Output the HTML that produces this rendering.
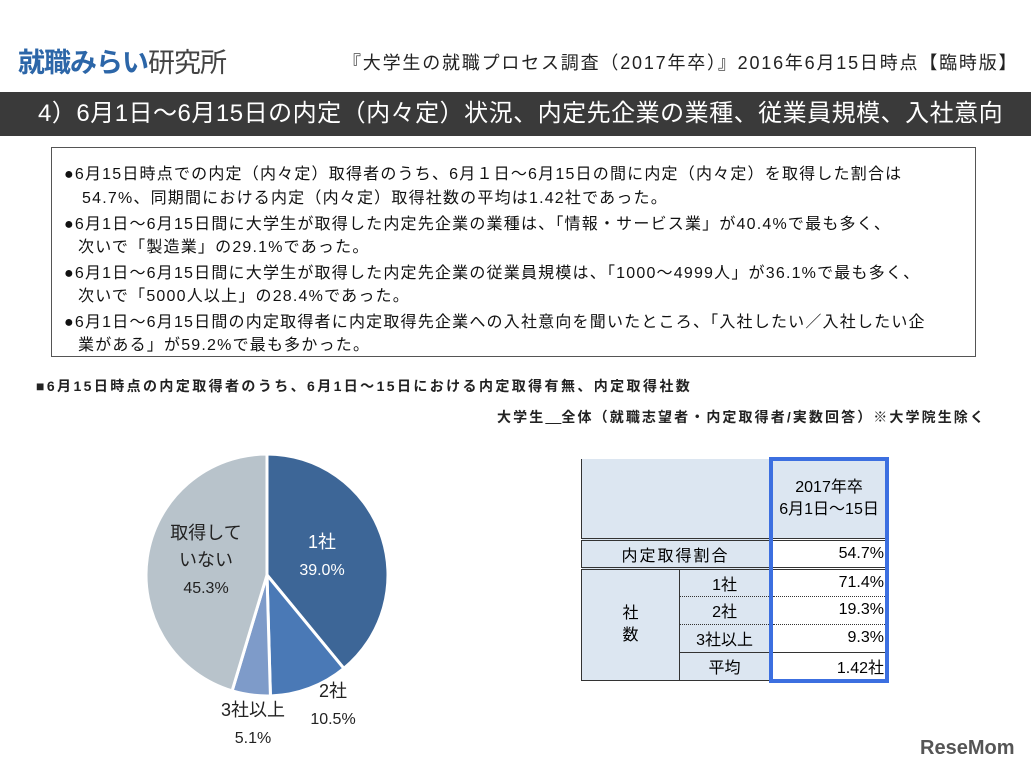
<!DOCTYPE html>
<html><head><meta charset="utf-8">
<style>
body{margin:0;width:1031px;height:771px;background:#fff;position:relative;overflow:hidden;font-family:"Liberation Sans","Noto Sans CJK JP",sans-serif;}
.abs{position:absolute;white-space:nowrap;}
#box{position:absolute;left:51px;top:147px;width:925px;height:210px;border:1px solid #555;box-sizing:border-box;font-size:16px;letter-spacing:1.2px;color:#111;}
#box div{position:absolute;left:12px;white-space:nowrap;}
table{border-collapse:collapse;font-size:16px;}
</style></head><body>
<div class="abs" style="left:18px;top:41px;font-size:27px;font-weight:bold;color:#2c66a8;letter-spacing:-1px;">就職みらい<span style="color:#444;font-weight:normal">研究所</span></div>
<div class="abs" style="left:343px;top:49px;font-size:18px;letter-spacing:1.8px;color:#222;">『大学生の就職プロセス調査（2017年卒）』2016年6月15日時点【臨時版】</div>
<div class="abs" style="left:0;top:92px;width:1031px;height:44px;background:#3a3a3a;color:#fff;font-size:24px;letter-spacing:0.5px;line-height:44px;padding-left:38px;box-sizing:border-box;">4）6月1日～6月15日の内定（内々定）状況、内定先企業の業種、従業員規模、入社意向</div>
<div id="box">
<div style="top:12px">●6月15日時点での内定（内々定）取得者のうち、6月１日～6月15日の間に内定（内々定）を取得した割合は</div>
<div style="top:36px;left:30px">54.7%、同期間における内定（内々定）取得社数の平均は1.42社であった。</div>
<div style="top:62px">●6月1日～6月15日間に大学生が取得した内定先企業の業種は、「情報・サービス業」が40.4%で最も多く、</div>
<div style="top:85px;left:26px">次いで「製造業」の29.1%であった。</div>
<div style="top:111px">●6月1日～6月15日間に大学生が取得した内定先企業の従業員規模は、「1000～4999人」が36.1%で最も多く、</div>
<div style="top:134px;left:26px">次いで「5000人以上」の28.4%であった。</div>
<div style="top:160px">●6月1日～6月15日間の内定取得者に内定取得先企業への入社意向を聞いたところ、「入社したい／入社したい企</div>
<div style="top:183px;left:26px">業がある」が59.2%で最も多かった。</div>
</div>
<div class="abs" style="left:36px;top:376px;font-size:14px;letter-spacing:2.4px;font-weight:bold;color:#222;">■6月15日時点の内定取得者のうち、6月1日～15日における内定取得有無、内定取得社数</div>
<div class="abs" style="left:497px;top:407px;font-size:14px;letter-spacing:2.1px;font-weight:bold;color:#222;">大学生<u>　</u>全体（就職志望者・内定取得者/実数回答）※大学院生除く</div>
<svg id="pie" width="1031" height="771" style="position:absolute;left:0;top:0"></svg>
<table style="position:absolute;left:581px;top:457px;width:308px;">
<tr style="height:80px"><td colspan="2" style="background:#dce6f1;width:177px;border-left:1px solid #333;border-bottom:3px double #333"></td><td style="background:#dce6f1;text-align:center;border:4px solid #3c6fe0;border-bottom:3px double #333;line-height:22px">2017年卒<br>6月1日～15日</td></tr>
<tr style="height:25px"><td colspan="2" style="background:#dce6f1;text-align:center;border-left:1px solid #333;border-bottom:3px double #333;letter-spacing:2px">内定取得割合</td><td style="text-align:right;border-left:4px solid #3c6fe0;border-right:4px solid #3c6fe0;border-bottom:3px double #333">54.7%</td></tr>
<tr style="height:28px"><td rowspan="4" style="background:#dce6f1;text-align:center;width:95px;border-left:1px solid #333;border-bottom:1px solid #333;border-right:1px solid #333;line-height:22px">社<br>数</td><td style="background:#dce6f1;text-align:center;border-bottom:1px dotted #333">1社</td><td style="text-align:right;border-left:4px solid #3c6fe0;border-right:4px solid #3c6fe0;border-bottom:1px dotted #333">71.4%</td></tr>
<tr style="height:28px"><td style="background:#dce6f1;text-align:center;border-bottom:1px dotted #333">2社</td><td style="text-align:right;border-left:4px solid #3c6fe0;border-right:4px solid #3c6fe0;border-bottom:1px dotted #333">19.3%</td></tr>
<tr style="height:28px"><td style="background:#dce6f1;text-align:center;border-bottom:1px solid #333">3社以上</td><td style="text-align:right;border-left:4px solid #3c6fe0;border-right:4px solid #3c6fe0;border-bottom:1px solid #333">9.3%</td></tr>
<tr style="height:28px"><td style="background:#dce6f1;text-align:center;border-bottom:1px solid #333">平均</td><td style="text-align:right;border:4px solid #3c6fe0;border-top:none">1.42社</td></tr>
</table>
<div class="abs" style="left:920px;top:737px;font-size:20px;font-weight:bold;color:#555;">ReseMom</div>
<script>
const categories=["1社","2社","3社以上","取得していない"];
const values=[39.0,10.5,5.1,45.3];
const colors=["#3d6697","#4a79b6","#7e9bc9","#b8c3cb"];
const svg=document.getElementById('pie');
const cx=267,cy=575,r=121;
const NS="http://www.w3.org/2000/svg";
const total=values.reduce((a,b)=>a+b,0);
let a0=0;
function pt(a,rr){return [cx+rr*Math.sin(a*2*Math.PI),cy-rr*Math.cos(a*2*Math.PI)];}
values.forEach((v,i)=>{
 const a1=a0+v/total;
 const p0=pt(a0,r),p1=pt(a1,r);
 const p=document.createElementNS(NS,'path');
 p.setAttribute('d',`M${cx},${cy}L${p0[0]},${p0[1]}A${r},${r} 0 ${a1-a0>0.5?1:0} 1 ${p1[0]},${p1[1]}Z`);
 p.setAttribute('fill',colors[i]);p.setAttribute('stroke','#fff');p.setAttribute('stroke-width','3');
 
 
 svg.appendChild(p);
 a0=a1;
});
const labels=[{x:322,y:548,c:"#fff",l:["1社",values[0].toFixed(1)+"%"]},
{x:333,y:697,c:"#222",l:["2社",values[1].toFixed(1)+"%"]},
{x:253,y:716,c:"#222",l:["3社以上",values[2].toFixed(1)+"%"]},
{x:206,y:539,c:"#222",l:["取得して","いない",values[3].toFixed(1)+"%"]}];
labels.forEach(o=>{o.l.forEach((s,j)=>{
 const t=document.createElementNS(NS,'text');
 t.setAttribute('x',o.x);t.setAttribute('y',o.y+j*27);t.setAttribute('text-anchor','middle');
 t.setAttribute('font-size',j==o.l.length-1?'16':'18');t.setAttribute('fill',o.c);
 t.textContent=s;
 
 
 svg.appendChild(t);});});
</script>
</body></html>
